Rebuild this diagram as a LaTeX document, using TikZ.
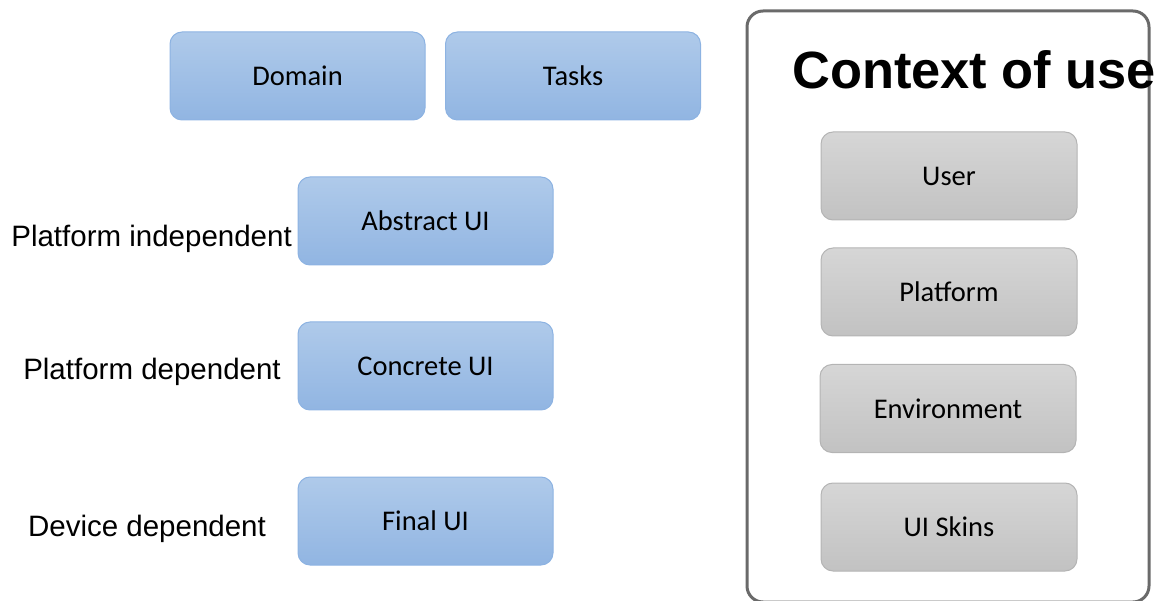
\documentclass[tikz,border=0pt]{standalone}
\usepackage{fontspec}
\setmainfont{Liberation Sans}
\newfontfamily\boxfont{Carlito}
\definecolor{bluetop}{HTML}{AFCAEA}
\definecolor{bluebot}{HTML}{91B5E2}
\definecolor{blueedge}{HTML}{8DB3E2}
\definecolor{graytop}{HTML}{D6D6D6}
\definecolor{graybot}{HTML}{C2C2C2}
\definecolor{grayedge}{HTML}{B4B4B4}
\definecolor{frameedge}{HTML}{6A6A6A}
\begin{document}
\begin{tikzpicture}[x=1pt,y=-1pt,
  bluebox/.style={draw=blueedge,line width=1pt,rounded corners=12pt,
    top color=bluetop,bottom color=bluebot,minimum width=255pt,minimum height=88pt,
    font=\boxfont\fontsize{28.5}{32}\selectfont,inner sep=0pt},
  graybox/.style={draw=grayedge,line width=1pt,rounded corners=12pt,
    top color=graytop,bottom color=graybot,minimum width=256pt,minimum height=88pt,
    font=\boxfont\fontsize{28.5}{32}\selectfont,inner sep=0pt},
  sidelabel/.style={font=\fontsize{29.5}{34}\selectfont,inner sep=0pt}]
\useasboundingbox (0,0) rectangle (1162,601);
% model levels
\node[bluebox] (domain) at (297.5,76) {Domain};
\node[bluebox] (tasks) at (573,76) {Tasks};
\node[bluebox] (abstract) at (425.5,221) {Abstract UI};
\node[bluebox] (concrete) at (425.5,366) {Concrete UI};
\node[bluebox] (final) at (425.5,521) {Final UI};
% level captions
\node[sidelabel,anchor=east] (indep) at (292,239) {Platform independent};
\node[sidelabel] (dep) at (152,372) {Platform dependent};
\node[sidelabel] (dev) at (147,529) {Device dependent};
% context of use panel
\draw[frameedge,line width=3pt,rounded corners=16pt] (747,11) rectangle (1149,602);
\node[font=\bfseries\fontsize{52.4}{58}\selectfont,inner sep=0pt,anchor=base west] (title) at (792,89) {Context of use};
\node[graybox] (user) at (949,176) {User};
\node[graybox] (platform) at (949,292) {Platform};
\node[graybox] (env) at (948,408.5) {Environment};
\node[graybox] (skins) at (949,527) {UI Skins};
\end{tikzpicture}
\end{document}
